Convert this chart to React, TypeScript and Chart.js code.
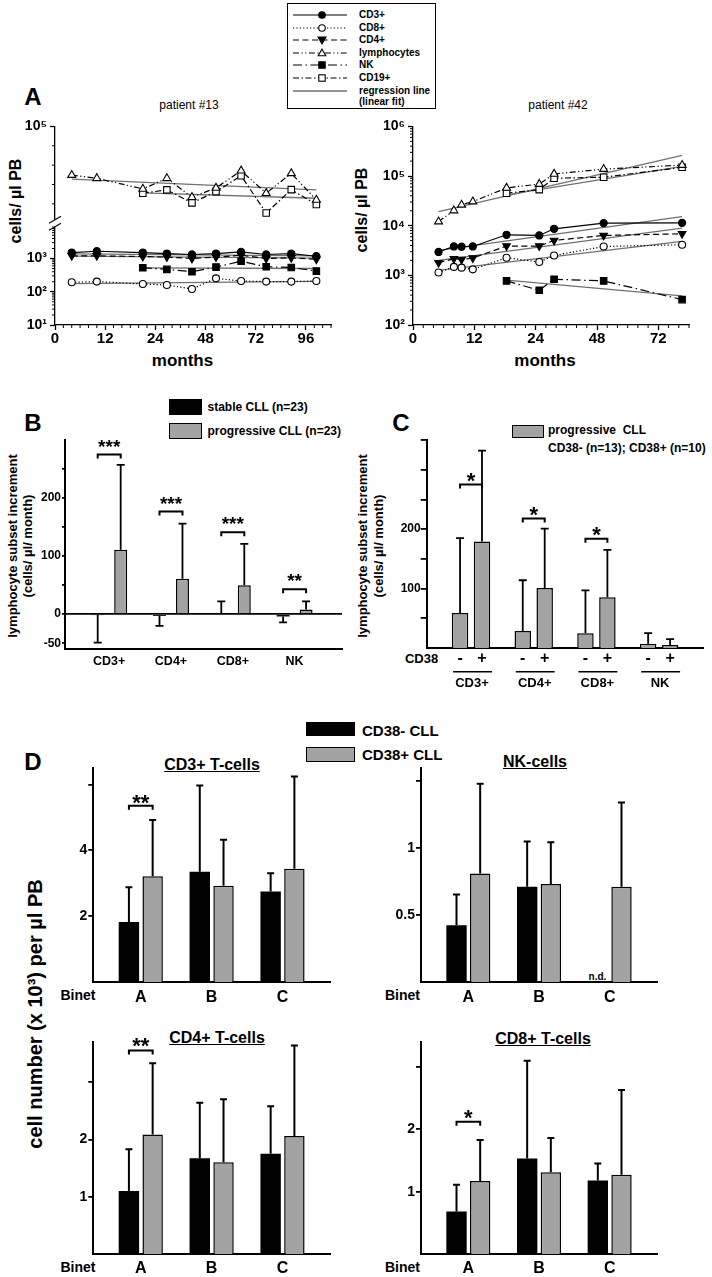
import React, { useEffect, useRef } from 'react';
import { Chart, registerables, LinearScale } from 'chart.js';

const FONT = "'Liberation Sans', 'DejaVu Sans', Arial, sans-serif";
const GRAY = '#a3a3a3';

/* ---------------- Panel A – patient #13 ---------------- */
const p13MonthTicks = [0, 12, 24, 48, 72, 96];
const p13Months = [4, 10, 21, 29.5, 41.5, 53, 65, 77, 89, 101];
const p13LateMonths = [21, 29.5, 41.5, 53, 65, 77, 89, 101];
const p13Lymphocytes = [49700, 46400, 35400, 46400, 26900, 36400, 54200, 31000, 51500, 24100];
const p13CD19 = [31000, 34400, 21000, 32600, 49000, 10500, 34700, 19300];
const p13CD3 = [1510, 1650, 1510, 1410, 1320, 1410, 1580, 1320, 1410, 1170];
const p13CD4 = [1200, 1200, 1150, 1100, 1000, 1100, 1250, 1000, 1050, 950];
const p13CD8 = [192, 202, 171, 160, 121, 253, 210, 202, 202, 210];
const p13NK = [527, 470, 401, 550, 830, 565, 538, 418];
const p13FitMonths = [4, 101];
const p13FitLateMonths = [21, 101];
const p13FitLymphocytes = [45600, 34400];
const p13FitCD19 = [31300, 25800];
const p13FitCD3 = [1380, 1200];
const p13FitCD4 = [1180, 1020];
const p13FitCD8 = [175, 205];
const p13FitNK = [520, 500];

/* ---------------- Panel A – patient #42 ---------------- */
const p42MonthTicks = [0, 12, 24, 48, 72];
const p42Months = [5, 8, 9.5, 11.7, 18.3, 25.4, 31.2, 50.6, 81.3];
const p42LateMonths = [18.3, 25.4, 31.2, 50.6, 81.3];
const p42Lymphocytes = [12100, 20200, 26300, 30600, 57500, 69000, 110000, 138000, 166000];
const p42CD19 = [45200, 53300, 90400, 94600, 150000];
const p42CD3 = [2960, 3820, 3770, 3820, 6560, 6360, 8660, 11300, 11400];
const p42CD4 = [1800, 2160, 2090, 2240, 3890, 3890, 5050, 6360, 6870];
const p42CD8 = [1140, 1480, 1430, 1320, 2260, 1860, 2510, 3820, 4130];
const p42NK = [773, 500, 835, 773, 325];
const p42FitMonths = [5, 81.3];
const p42FitLateMonths = [18.3, 81.3];
const p42FitLymphocytes = [19300, 262000];
const p42FitCD19 = [41700, 157000];
const p42FitCD3 = [3180, 15300];
const p42FitCD4 = [2000, 8900];
const p42FitCD8 = [1260, 4820];
const p42FitNK = [800, 385];

/* ---------------- Panel B ---------------- */
const subsetLabels = ['CD3+', 'CD4+', 'CD8+', 'NK'];
const stableMean = [-1, -3, 1, -4];
const stableSD = [48, 17, 21, 10];
const progressiveMean = [111, 61, 50, 8];
const progressiveSD = [146, 95, 71, 14];
const bBracketLevels = [275, 177, 141, 43];
const bBracketStars = ['***', '***', '***', '**'];

/* ---------------- Panel C ---------------- */
const cd38NegMean = [59, 28.5, 25, 7];
const cd38NegSD = [126, 85.5, 72, 18];
const cd38PosMean = [179, 101, 85.6, 5];
const cd38PosSD = [153, 100, 79.4, 10];
const cBracketLevels = [275, 218, 184];
const cBracketStars = ['*', '*', '*'];

/* ---------------- Panel D ---------------- */
const binetLabels = ['A', 'B', 'C'];
const dCD3Neg = [1.82, 3.35, 2.75];
const dCD3NegSD = [1.06, 2.62, 0.55];
const dCD3Pos = [3.21, 2.92, 3.44];
const dCD3PosSD = [1.71, 1.4, 2.8];
const dNKNeg = [0.424, 0.712, null];
const dNKNegSD = [0.231, 0.338, null];
const dNKPos = [0.812, 0.732, 0.712];
const dNKPosSD = [0.671, 0.313, 0.63];
const dCD4Neg = [1.1, 1.67, 1.75];
const dCD4NegSD = [0.73, 0.97, 0.83];
const dCD4Pos = [2.085, 1.6, 2.06];
const dCD4PosSD = [1.245, 1.1, 1.58];
const dCD8Neg = [0.68, 1.53, 1.18];
const dCD8NegSD = [0.43, 1.57, 0.27];
const dCD8Pos = [1.17, 1.31, 1.27];
const dCD8PosSD = [0.66, 0.55, 1.36];

/* ---------------- piecewise month scale (0–24 full width, >24 half width) ---------------- */
const squeeze = (m: number) => (m <= 24 ? m : 24 + (m - 24) / 2);
const unsqueeze = (t: number) => (t <= 24 ? t : 24 + (t - 24) * 2);

class MonthScale extends (LinearScale as any) {
  static id = 'months';
  static defaults = {};
  getPixelForValue(value: number) {
    const a = squeeze(this.min), b = squeeze(this.max);
    return this.getPixelForDecimal((squeeze(value) - a) / (b - a));
  }
  getValueForPixel(pixel: number) {
    const a = squeeze(this.min), b = squeeze(this.max);
    return unsqueeze(a + this.getDecimalForPixel(pixel) * (b - a));
  }
}
Chart.register(...registerables, MonthScale as any);
Chart.defaults.font.family = FONT;
Chart.defaults.color = '#000';

/* ---------------- helpers ---------------- */
const pts = (xs: number[], ys: (number | null)[]) =>
  xs.map((x, i) => ({ x, y: ys[i] })).filter((p) => p.y != null);
const font = (size: number, weight: any = 'bold') => ({ family: FONT, size, weight });
const ticksAt = (vals: number[]) => (s: any) => {
  s.ticks = vals.map((v) => ({ value: v }));
};
const fixW = (w: number) => (s: any) => {
  s.width = w;
};
const fixH = (h: number) => (s: any) => {
  s.height = h;
};
const labelMap = (m: Record<string, string>) => (v: any) => m[String(v)] ?? '';

function minorMonths(max: number, majors: number[]) {
  const out: number[] = [];
  for (let m = 2; m <= 24; m += 2) if (!majors.includes(m)) out.push(m);
  for (let m = 28; m <= max; m += 4) if (!majors.includes(m)) out.push(m);
  return out;
}
function minorLogs(lo: number, hi: number) {
  const out: number[] = [];
  for (let d = lo; d < hi; d *= 10) for (let k = 2; k <= 9; k++) out.push(d * k);
  return out;
}

const baseOpts = (padding: any) => ({
  animation: false,
  responsive: false,
  maintainAspectRatio: false,
  events: [],
  layout: { padding: { left: 0, right: 0, top: 0, bottom: 0, ...padding } },
  plugins: { legend: { display: false }, tooltip: { enabled: false }, title: { display: false } },
});

/* ---------------- plugins ---------------- */
const minorTicks = (specs: { id: string; values: number[]; len: number }[]) => ({
  id: 'minorTicks',
  afterDraw(chart: any) {
    const ctx = chart.ctx;
    ctx.save();
    ctx.strokeStyle = '#000';
    ctx.lineWidth = 1;
    specs.forEach((s) => {
      const sc = chart.scales[s.id];
      s.values.forEach((v) => {
        if (v < sc.min || v > sc.max) return;
        const p = sc.getPixelForValue(v);
        ctx.beginPath();
        if (sc.isHorizontal()) {
          ctx.moveTo(p, sc.top);
          ctx.lineTo(p, sc.top + s.len);
        } else {
          ctx.moveTo(sc.right, p);
          ctx.lineTo(sc.right - s.len, p);
        }
        ctx.stroke();
      });
    });
    ctx.restore();
  },
});

const axisBreak = {
  id: 'axisBreak',
  afterDraw(chart: any) {
    const up = chart.scales.yU;
    const x = up.right;
    const yb = up.bottom;
    const ctx = chart.ctx;
    ctx.save();
    ctx.fillStyle = '#fff';
    ctx.fillRect(x - 2.5, yb - 3.5, 5, 7);
    ctx.strokeStyle = '#000';
    ctx.lineWidth = 1.1;
    [-3.5, 3.5].forEach((dy) => {
      ctx.beginPath();
      ctx.moveTo(x - 6, yb + dy + 3.5);
      ctx.lineTo(x + 6, yb + dy - 3.5);
      ctx.stroke();
    });
    ctx.restore();
  },
};

const barAt = (chart: any, d: number, cat: number) => {
  const ds = chart.data.datasets[d].data;
  const j = ds.findIndex((p: any) => p.x === cat);
  return j < 0 ? null : chart.getDatasetMeta(d).data[j];
};

const errorBars = (sds: (number | null)[][], cap: number, lw: number) => ({
  id: 'errorBars',
  afterDatasetsDraw(chart: any) {
    const ctx = chart.ctx;
    const ys = chart.scales.y;
    ctx.save();
    ctx.strokeStyle = '#000';
    ctx.lineWidth = lw;
    sds.forEach((arr, d) => {
      const ds = chart.data.datasets[d].data;
      const meta = chart.getDatasetMeta(d);
      ds.forEach((p: any, j: number) => {
        const sd = arr[p.x];
        if (sd == null || p.y == null) return;
        const el = meta.data[j];
        const end = p.y >= 0 ? p.y + sd : p.y - sd;
        const y0 = ys.getPixelForValue(p.y);
        const y1 = ys.getPixelForValue(end);
        ctx.beginPath();
        ctx.moveTo(el.x, y0);
        ctx.lineTo(el.x, y1);
        ctx.moveTo(el.x - cap / 2, y1);
        ctx.lineTo(el.x + cap / 2, y1);
        ctx.stroke();
      });
    });
    ctx.restore();
  },
});

const brackets = (items: { cat: number; level: number; text: string }[], fs: number, gap: number) => ({
  id: 'brackets',
  afterDatasetsDraw(chart: any) {
    const ctx = chart.ctx;
    const ys = chart.scales.y;
    ctx.save();
    ctx.strokeStyle = '#000';
    ctx.fillStyle = '#000';
    ctx.lineWidth = 2;
    ctx.font = `bold ${fs}px ${FONT}`;
    ctx.textAlign = 'center';
    ctx.textBaseline = 'alphabetic';
    items.forEach((it) => {
      const a = barAt(chart, 0, it.cat);
      const b = barAt(chart, 1, it.cat);
      if (!a || !b) return;
      const y = ys.getPixelForValue(it.level);
      ctx.beginPath();
      ctx.moveTo(a.x, y + 4);
      ctx.lineTo(a.x, y);
      ctx.lineTo(b.x, y);
      ctx.lineTo(b.x, y + 4);
      ctx.stroke();
      ctx.fillText(it.text, (a.x + b.x) / 2, y - gap + 0.56 * fs);
    });
    ctx.restore();
  },
});

const cd38Axis = (groups: string[], signs: string[]) => ({
  id: 'cd38Axis',
  afterDraw(chart: any) {
    const ctx = chart.ctx;
    const base = chart.chartArea.bottom;
    ctx.save();
    ctx.fillStyle = '#000';
    ctx.strokeStyle = '#000';
    ctx.textAlign = 'center';
    ctx.textBaseline = 'middle';
    groups.forEach((g, i) => {
      const a = barAt(chart, 0, i);
      const b = barAt(chart, 1, i);
      if (!a || !b) return;
      ctx.font = `bold 16px ${FONT}`;
      ctx.fillText(signs[0], a.x, base + 10.5);
      ctx.fillText(signs[1], b.x, base + 10.5);
      ctx.lineWidth = 1.5;
      ctx.beginPath();
      ctx.moveTo(a.x - 7, base + 23.7);
      ctx.lineTo(b.x + 10, base + 23.7);
      ctx.stroke();
      ctx.font = `bold 13px ${FONT}`;
      ctx.fillText(g, (a.x + b.x) / 2 + 1, base + 35);
    });
    ctx.restore();
  },
});

/* ---------------- panel A configs ---------------- */
const ST: Record<string, any> = {
  CD3: { dash: [], point: 'circle', fill: '#000', r: 3.6, rot: 0 },
  CD8: { dash: [1.2, 2.2], point: 'circle', fill: '#fff', r: 3.5, rot: 0 },
  CD4: { dash: [6, 3.5], point: 'triangle', fill: '#000', r: 4.4, rot: 180 },
  LY: { dash: [6, 2.5, 1.2, 2.5, 1.2, 2.5], point: 'triangle', fill: '#fff', r: 4.6, rot: 0 },
  NK: { dash: [9, 3.5, 1.5, 3.5], point: 'rect', fill: '#000', r: 4.6, rot: 0 },
  CD19: { dash: [6, 2.5, 1.5, 2.5], point: 'rect', fill: '#fff', r: 4.6, rot: 0 },
};

const series = (xs: number[], ys: number[], st: any, axis: string) => ({
  data: pts(xs, ys),
  yAxisID: axis,
  xAxisID: 'x',
  borderColor: '#000',
  borderWidth: 1.2,
  borderDash: st.dash,
  pointStyle: st.point,
  rotation: st.rot,
  pointRadius: st.r,
  pointBackgroundColor: st.fill,
  pointBorderColor: '#000',
  pointBorderWidth: 1.1,
  tension: 0,
  fill: false,
  order: 1,
});
const fitLine = (xs: number[], ys: number[], axis: string) => ({
  data: pts(xs, ys),
  yAxisID: axis,
  xAxisID: 'x',
  borderColor: '#707070',
  borderWidth: 1.3,
  pointRadius: 0,
  tension: 0,
  fill: false,
  order: 5,
});

const monthAxis = (max: number, majors: number[]) => ({
  type: 'months',
  min: 0,
  max,
  afterBuildTicks: ticksAt(majors),
  afterFit: fixH(22),
  ticks: { font: font(15), color: '#000', padding: 0, autoSkip: false, maxRotation: 0, callback: (v: any) => String(v) },
  grid: { drawOnChartArea: false, tickLength: 5, tickColor: '#000', tickWidth: 1.3 },
  border: { color: '#000', width: 1.3 },
});
const logLabel: Record<string, string> = {
  '10': '10¹',
  '100': '10²',
  '1000': '10³',
  '10000': '10⁴',
  '100000': '10⁵',
  '1000000': '10⁶',
};
const yAxisA = (w: number, extra: any) => ({
  position: 'left',
  afterFit: fixW(w),
  ticks: { font: font(14), color: '#000', padding: 3, autoSkip: false, callback: (v: any) => logLabel[String(v)] ?? '' },
  grid: { drawOnChartArea: false, tickLength: 5, tickColor: '#000', tickWidth: 1.3 },
  border: { color: '#000', width: 1.3 },
  ...extra,
});

const cfgA13 = () => ({
  type: 'line',
  data: {
    datasets: [
      fitLine(p13FitMonths, p13FitLymphocytes, 'yU'),
      fitLine(p13FitLateMonths, p13FitCD19, 'yU'),
      fitLine(p13FitMonths, p13FitCD3, 'yL'),
      fitLine(p13FitMonths, p13FitCD4, 'yL'),
      fitLine(p13FitMonths, p13FitCD8, 'yL'),
      fitLine(p13FitLateMonths, p13FitNK, 'yL'),
      series(p13Months, p13Lymphocytes, ST.LY, 'yU'),
      series(p13LateMonths, p13CD19, ST.CD19, 'yU'),
      series(p13Months, p13CD3, ST.CD3, 'yL'),
      series(p13Months, p13CD4, ST.CD4, 'yL'),
      series(p13Months, p13CD8, ST.CD8, 'yL'),
      series(p13LateMonths, p13NK, ST.NK, 'yL'),
    ],
  },
  options: {
    ...baseOpts({ top: 10, right: 6 }),
    scales: {
      x: monthAxis(108, p13MonthTicks),
      yU: yAxisA(55, {
        type: 'linear',
        stack: 'left',
        stackWeight: 97.5,
        weight: 1,
        min: 0,
        max: 100000,
        afterBuildTicks: ticksAt([100000]),
      }),
      yL: yAxisA(55, {
        type: 'logarithmic',
        stack: 'left',
        stackWeight: 102.5,
        weight: 0,
        min: 10,
        max: 11500,
        afterBuildTicks: ticksAt([10, 100, 1000]),
      }),
    },
  },
  plugins: [
    minorTicks([
      { id: 'x', values: minorMonths(108, p13MonthTicks), len: 3 },
      { id: 'yL', values: minorLogs(10, 10000), len: 3 },
      { id: 'yU', values: [20000, 40000, 60000, 80000], len: 3 },
    ]),
    axisBreak,
  ],
});

const cfgA42 = () => ({
  type: 'line',
  data: {
    datasets: [
      fitLine(p42FitMonths, p42FitLymphocytes, 'y'),
      fitLine(p42FitLateMonths, p42FitCD19, 'y'),
      fitLine(p42FitMonths, p42FitCD3, 'y'),
      fitLine(p42FitMonths, p42FitCD4, 'y'),
      fitLine(p42FitMonths, p42FitCD8, 'y'),
      fitLine(p42FitLateMonths, p42FitNK, 'y'),
      series(p42Months, p42Lymphocytes, ST.LY, 'y'),
      series(p42LateMonths, p42CD19, ST.CD19, 'y'),
      series(p42Months, p42CD3, ST.CD3, 'y'),
      series(p42Months, p42CD4, ST.CD4, 'y'),
      series(p42Months, p42CD8, ST.CD8, 'y'),
      series(p42LateMonths, p42NK, ST.NK, 'y'),
    ],
  },
  options: {
    ...baseOpts({ top: 10, right: 6 }),
    scales: {
      x: monthAxis(84, p42MonthTicks),
      y: yAxisA(58, {
        type: 'logarithmic',
        min: 100,
        max: 1000000,
        afterBuildTicks: ticksAt([100, 1000, 10000, 100000, 1000000]),
      }),
    },
  },
  plugins: [
    minorTicks([
      { id: 'x', values: minorMonths(84, p42MonthTicks), len: 3 },
      { id: 'y', values: minorLogs(100, 1000000), len: 3 },
    ]),
  ],
});

/* ---------------- bar panel helpers ---------------- */
const barDS = (vals: (number | null)[], fill: string, bw: number, cp: number, bp: number) => ({
  data: vals.map((v, i) => ({ x: i, y: v })).filter((p) => p.y != null),
  backgroundColor: fill,
  borderColor: '#000',
  borderWidth: bw,
  borderSkipped: 'start',
  categoryPercentage: cp,
  barPercentage: bp,
});
const catAxis = (min: number, max: number, labels: string[], show: boolean, size: number, pad: number, h: number) => ({
  type: 'linear',
  min,
  max,
  offset: false,
  afterBuildTicks: ticksAt(labels.map((_, i) => i)),
  afterFit: fixH(h),
  ticks: {
    display: show,
    font: font(size),
    color: '#000',
    padding: pad,
    autoSkip: false,
    maxRotation: 0,
    callback: (v: any) => labels[v] ?? '',
  },
  grid: { display: false, drawTicks: false, tickLength: 0 },
  border: { color: '#000', width: 2 },
});
const valAxis = (o: any) => ({
  type: 'linear',
  position: 'left',
  min: o.min,
  max: o.max,
  afterBuildTicks: ticksAt(o.ticks),
  afterFit: fixW(o.width),
  ticks: { font: font(o.size), color: '#000', padding: o.pad, autoSkip: false, callback: labelMap(o.labels) },
  grid: {
    drawOnChartArea: !!o.zero,
    color: (c: any) => (c.tick && c.tick.value === 0 ? '#000' : 'rgba(0,0,0,0)'),
    lineWidth: 1.8,
    tickLength: o.tl,
    tickColor: '#000',
    tickWidth: 1.8,
  },
  border: { color: '#000', width: 2 },
});

const cfgB = () => ({
  type: 'bar',
  data: {
    datasets: [
      barDS(stableMean, '#000', 0, 0.744, 0.565),
      barDS(progressiveMean, GRAY, 1.5, 0.744, 0.565),
    ],
  },
  options: {
    ...baseOpts({ top: 10, right: 8 }),
    scales: {
      x: catAxis(-0.715, 3.767, subsetLabels, true, 12.5, 5, 26),
      y: valAxis({
        min: -60,
        max: 300,
        ticks: [-50, 0, 50, 100, 150, 200, 250],
        labels: { '-50': '-50', '0': '0', '100': '100', '200': '200' },
        width: 65,
        size: 12,
        pad: 1,
        tl: 3,
        zero: true,
      }),
    },
  },
  plugins: [
    errorBars([stableSD, progressiveSD], 8, 1.8),
    brackets(bBracketLevels.map((level, i) => ({ cat: i, level, text: bBracketStars[i] })), 19, 12.5),
  ],
});

const cfgC = () => ({
  type: 'bar',
  data: {
    datasets: [
      barDS(cd38NegMean, GRAY, 1.5, 0.7, 0.75),
      barDS(cd38PosMean, GRAY, 1.5, 0.7, 0.75),
    ],
  },
  options: {
    ...baseOpts({ top: 10, right: 7 }),
    scales: {
      x: catAxis(-0.707, 3.7, subsetLabels, false, 12, 0, 45),
      y: valAxis({
        min: 0,
        max: 350,
        ticks: [50, 100, 150, 200, 250, 300, 350],
        labels: { '100': '100', '200': '200' },
        width: 66.7,
        size: 12,
        pad: 0,
        tl: 6,
        zero: false,
      }),
    },
  },
  plugins: [
    errorBars([cd38NegSD, cd38PosSD], 8, 1.8),
    brackets(cBracketLevels.map((level, i) => ({ cat: i, level, text: cBracketStars[i] })), 22, 8.5),
    cd38Axis(subsetLabels, ['-', '+']),
  ],
});

const dChart = (o: any) => () => ({
  type: 'bar',
  data: {
    datasets: [barDS(o.neg, '#000', 0, 0.67, 0.86), barDS(o.pos, GRAY, 1.5, 0.67, 0.86)],
  },
  options: {
    ...baseOpts({ top: 10, right: 6 }),
    scales: {
      x: catAxis(-0.67, 2.67, binetLabels, true, 16, o.xPad, o.xH),
      y: valAxis({
        min: 0,
        max: o.max,
        ticks: o.ticks,
        labels: o.labels,
        width: o.yW,
        size: 14,
        pad: 1,
        tl: 5,
        zero: false,
      }),
    },
  },
  plugins: [errorBars([o.negSD, o.posSD], 7, 2), brackets(o.br, 22, o.gap)],
});

const cfgDCD3 = dChart({
  neg: dCD3Neg, negSD: dCD3NegSD, pos: dCD3Pos, posSD: dCD3PosSD,
  max: 6.5, ticks: [2, 4, 6], labels: { '2': '2', '4': '4' },
  yW: 93.3, xPad: 6, xH: 24, br: [{ cat: 0, level: 5.35, text: '**' }], gap: 8.5,
});
const cfgDNK = dChart({
  neg: dNKNeg, negSD: dNKNegSD, pos: dNKPos, posSD: dNKPosSD,
  max: 1.6, ticks: [0.5, 1, 1.5], labels: { '0.5': '0.5', '1': '1' },
  yW: 66, xPad: 6, xH: 24, br: [], gap: 8.5,
});
const cfgDCD4 = dChart({
  neg: dCD4Neg, negSD: dCD4NegSD, pos: dCD4Pos, posSD: dCD4PosSD,
  max: 3.7, ticks: [1, 2, 3], labels: { '1': '1', '2': '2' },
  yW: 93.3, xPad: 5, xH: 22, br: [{ cat: 0, level: 3.55, text: '**' }], gap: 10,
});
const cfgDCD8 = dChart({
  neg: dCD8Neg, negSD: dCD8NegSD, pos: dCD8Pos, posSD: dCD8PosSD,
  max: 3.4, ticks: [1, 2, 3], labels: { '1': '1', '2': '2' },
  yW: 66, xPad: 5, xH: 22, br: [{ cat: 0, level: 2.12, text: '*' }], gap: 8.7,
});

/* ---------------- React components ---------------- */
function ChartBox({ x, y, w, h, make }: any) {
  const ref = useRef<HTMLCanvasElement | null>(null);
  useEffect(() => {
    const chart = new Chart(ref.current as any, make());
    return () => chart.destroy();
  }, [make]);
  return (
    <canvas
      ref={ref}
      width={w}
      height={h}
      style={{ position: 'absolute', left: x, top: y, width: w, height: h }}
    />
  );
}

function Txt({ x, y, size, weight = 700, rot = false, left = false, children, style }: any) {
  const tr = `translate(${left ? '0' : '-50%'}, -50%)` + (rot ? ' rotate(-90deg)' : '');
  return (
    <div
      style={{
        position: 'absolute',
        left: x,
        top: y,
        fontSize: size,
        fontWeight: weight,
        lineHeight: 1,
        whiteSpace: 'nowrap',
        transform: tr,
        ...style,
      }}
    >
      {children}
    </div>
  );
}

const Box = ({ x, y, w, h, fill, border }: any) => (
  <div
    style={{
      position: 'absolute',
      left: x,
      top: y,
      width: w,
      height: h,
      boxSizing: 'border-box',
      background: fill,
      border: border ? '1.5px solid #000' : 'none',
    }}
  />
);

const legendRows = [
  { label: 'CD3+', dash: '', marker: 'circle', fill: '#000', y: 15 },
  { label: 'CD8+', dash: '1.2 2.2', marker: 'circle', fill: '#fff', y: 27.5 },
  { label: 'CD4+', dash: '6 3.5', marker: 'down', fill: '#000', y: 40 },
  { label: 'lymphocytes', dash: '6 2.5 1.2 2.5 1.2 2.5', marker: 'up', fill: '#fff', y: 52.5 },
  { label: 'NK', dash: '9 3.5 1.5 3.5', marker: 'square', fill: '#000', y: 65 },
  { label: 'CD19+', dash: '6 2.5 1.5 2.5', marker: 'square', fill: '#fff', y: 78 },
  { label: 'regression line', dash: '', marker: '', fill: '', y: 90.5, gray: true },
];

function Marker({ kind, fill }: any) {
  const s = { fill, stroke: '#000', strokeWidth: 1.1 };
  if (kind === 'circle') return <circle cx={29} cy={6} r={3.3} {...s} />;
  if (kind === 'square') return <rect x={25.8} y={2.8} width={6.4} height={6.4} {...s} />;
  if (kind === 'up') return <polygon points="29,2.2 32.8,8.8 25.2,8.8" {...s} />;
  if (kind === 'down') return <polygon points="25,3 33,3 29,9.8" {...s} />;
  return null;
}

function LegendA() {
  return (
    <>
      <div
        style={{
          position: 'absolute',
          left: 287,
          top: 3,
          width: 149,
          height: 106,
          boxSizing: 'border-box',
          border: '1.3px solid #000',
        }}
      />
      {legendRows.map((r) => (
        <React.Fragment key={r.label}>
          <svg
            width={56}
            height={12}
            style={{ position: 'absolute', left: 292.5, top: r.y - 6 }}
          >
            <line
              x1={0}
              x2={54}
              y1={6}
              y2={6}
              stroke={r.gray ? '#707070' : '#000'}
              strokeWidth={r.gray ? 1.5 : 1.1}
              strokeDasharray={r.dash || undefined}
            />
            <Marker kind={r.marker} fill={r.fill} />
          </svg>
          <Txt x={359} y={r.y} size={10} left>
            {r.label}
          </Txt>
        </React.Fragment>
      ))}
      <Txt x={359} y={101.5} size={10} left>
        (linear fit)
      </Txt>
    </>
  );
}

export default function App() {
  return (
    <div
      style={{
        position: 'absolute',
        left: 0,
        top: 0,
        width: 712,
        height: 1277,
        overflow: 'hidden',
        background: '#fff',
        color: '#000',
        fontFamily: FONT,
      }}
    >
      {/* Panel A */}
      <LegendA />
      <Txt x={33} y={97} size={24}>A</Txt>
      <Txt x={189} y={105} size={12} weight={400}>patient #13</Txt>
      <Txt x={558} y={105} size={12} weight={400}>patient #42</Txt>
      <Txt x={16} y={201} size={16} rot>cells/ µl PB</Txt>
      <Txt x={362} y={210} size={16} rot>cells/ µl PB</Txt>
      <Txt x={182.5} y={360} size={17}>months</Txt>
      <Txt x={545} y={360} size={17}>months</Txt>
      <ChartBox x={0} y={115} w={337} h={232} make={cfgA13} />
      <ChartBox x={355} y={115} w={340} h={232} make={cfgA42} />

      {/* Panel B */}
      <Txt x={33} y={423} size={24}>B</Txt>
      <Box x={169} y={399} w={33} h={16} fill="#000" />
      <Box x={169} y={422.5} w={33} h={16} fill={GRAY} border />
      <Txt x={207.5} y={407} size={12} left>stable CLL (n=23)</Txt>
      <Txt x={207.5} y={430.5} size={12} left>progressive CLL (n=23)</Txt>
      <Txt x={12} y={546} size={13} rot>lymphocyte subset increment</Txt>
      <Txt x={27} y={546} size={13} rot>(cells/ µl/ month)</Txt>
      <ChartBox x={0} y={430} w={350} h={245} make={cfgB} />

      {/* Panel C */}
      <Txt x={401} y={423} size={24}>C</Txt>
      <Box x={512} y={425} w={31.5} h={13} fill={GRAY} border />
      <Txt x={548} y={429.5} size={12} left>progressive&nbsp; CLL</Txt>
      <Txt x={548} y={447.7} size={12} left>CD38- (n=13); CD38+ (n=10)</Txt>
      <Txt x={362} y={546} size={13} rot>lymphocyte subset increment</Txt>
      <Txt x={378} y={546} size={13} rot>(cells/ µl/ month)</Txt>
      <Txt x={421.5} y={658} size={13}>CD38</Txt>
      <ChartBox x={360} y={430} w={350} h={263} make={cfgC} />

      {/* Panel D */}
      <Txt x={33} y={762} size={24}>D</Txt>
      <Box x={306} y={722} w={49} h={14} fill="#000" />
      <Box x={306} y={747} w={49} h={15} fill={GRAY} border />
      <Txt x={362} y={730} size={15} left>CD38- CLL</Txt>
      <Txt x={362} y={754} size={15} left>CD38+ CLL</Txt>
      <Txt x={35} y={1014} size={20} rot>cell number (x 10³) per µl PB</Txt>
      <Txt x={212} y={765} size={16} style={{ textDecoration: 'underline' }}>CD3+ T-cells</Txt>
      <Txt x={535} y={762} size={16} style={{ textDecoration: 'underline' }}>NK-cells</Txt>
      <Txt x={217} y={1038} size={16} style={{ textDecoration: 'underline' }}>CD4+ T-cells</Txt>
      <Txt x={543} y={1039} size={16} style={{ textDecoration: 'underline' }}>CD8+ T-cells</Txt>
      <Txt x={78} y={995} size={14}>Binet</Txt>
      <Txt x={402.5} y={995} size={14}>Binet</Txt>
      <Txt x={78} y={1267} size={14}>Binet</Txt>
      <Txt x={402.5} y={1267} size={14}>Binet</Txt>
      <Txt x={597.5} y={977} size={10}>n.d.</Txt>
      <ChartBox x={0} y={758} w={336} h={248} make={cfgDCD3} />
      <ChartBox x={355} y={758} w={308} h={248} make={cfgDNK} />
      <ChartBox x={0} y={1032} w={336} h={244} make={cfgDCD4} />
      <ChartBox x={355} y={1032} w={308} h={244} make={cfgDCD8} />
    </div>
  );
}
